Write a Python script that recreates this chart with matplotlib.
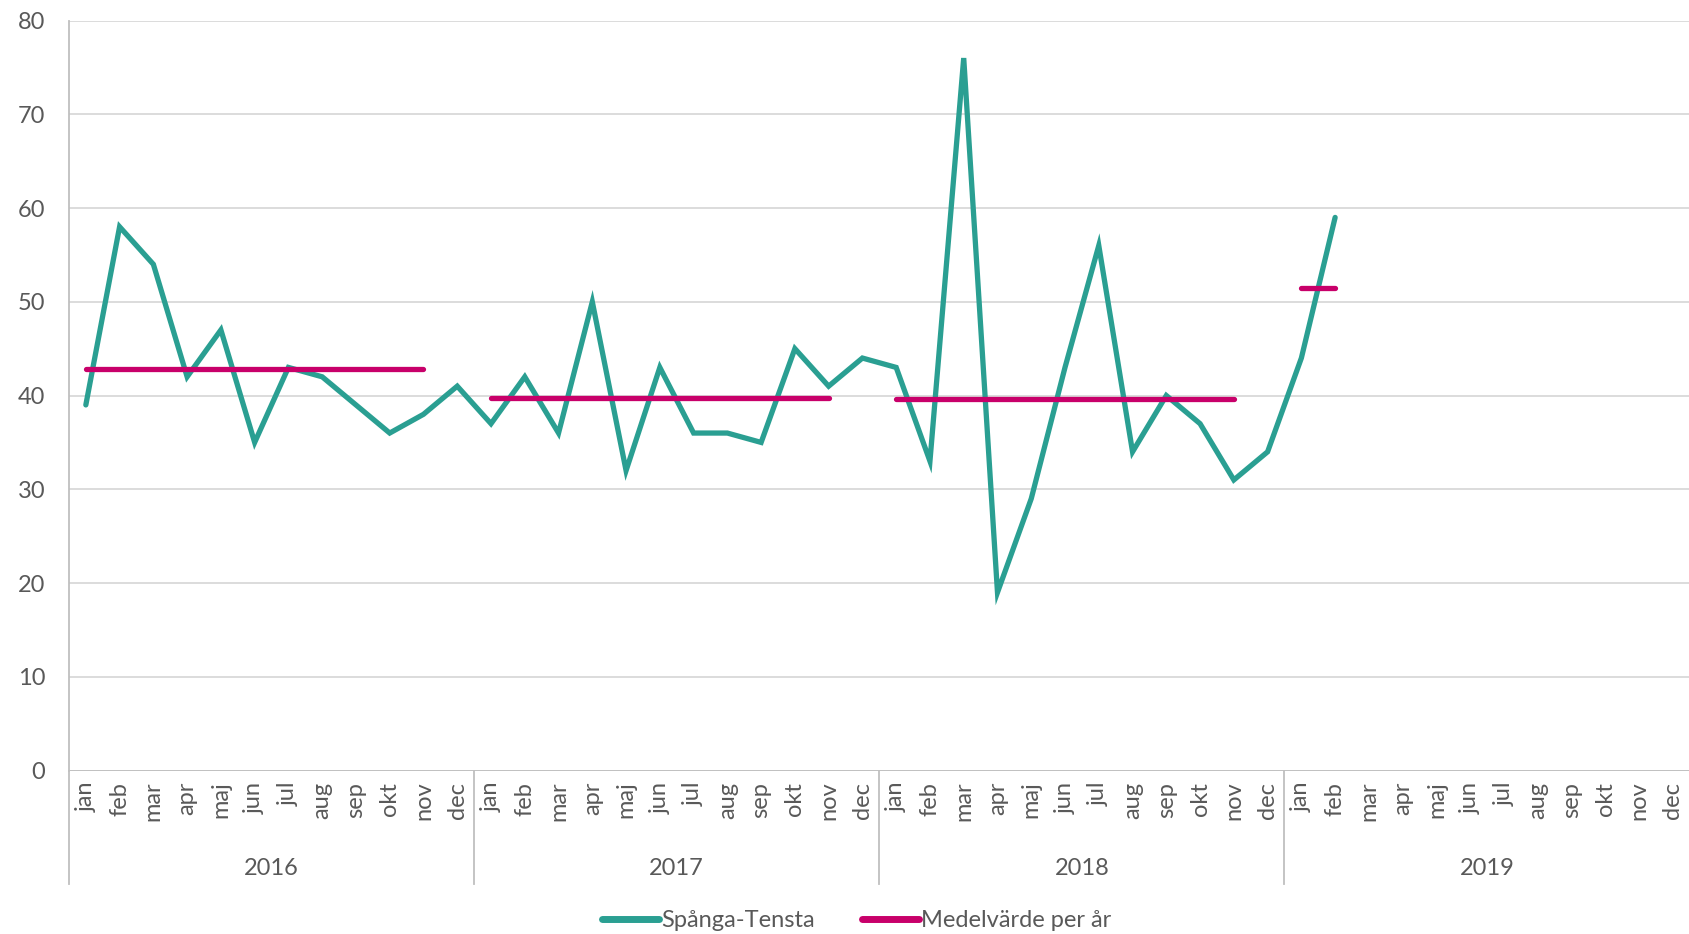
import matplotlib
matplotlib.use("Agg")
import matplotlib.pyplot as plt
import numpy as np

plt.rcParams['font.family'] = ['Lato', 'DejaVu Sans']

# data
manader = ["jan", "feb", "mar", "apr", "maj", "jun", "jul", "aug", "sep", "okt", "nov", "dec"]
ar = ["2016", "2017", "2018", "2019"]

v2016 = [39, 58, 54, 42, 47, 35, 43, 42, 39, 36, 38, 41]
v2017 = [37, 42, 36, 50, 32, 43, 36, 36, 35, 45, 41, 44]
v2018 = [43, 33, 76, 19, 29, 43, 56, 34, 40, 37, 31, 34]
v2019 = [44, 59]

TEAL = "#2A9F92"
MAGENTA = "#C8006A"
GREY_TXT = "#595959"
GRID = "#D9D9D9"
SPINE = "#BFBFBF"

alla = v2016 + v2017 + v2018 + v2019
serie = np.full(48, np.nan)
serie[:len(alla)] = alla

# medelvarde per ar, ritat jan-nov (jan-feb for 2019)
medel = np.full(48, np.nan)
for i, v in enumerate([v2016, v2017, v2018, v2019]):
    m = np.mean(v)
    n = 11 if len(v) == 12 else len(v)
    medel[i * 12:i * 12 + n] = m

x = np.arange(48)

fig = plt.figure(figsize=(16.9, 9.34), dpi=100)
ax = fig.add_axes([0.0408, 0.175, 0.959, 0.803])

ax.plot(x, serie, color=TEAL, lw=3.8, solid_capstyle='round', solid_joinstyle='miter',
        label="Spånga-Tensta", zorder=3)
ax.plot(x, medel, color=MAGENTA, lw=3.8, solid_capstyle='round',
        label="Medelvärde per år", zorder=4)

ax.set_xlim(-0.5, 47.5)
ax.set_ylim(0, 80)
ax.set_yticks(range(0, 81, 10))
ax.yaxis.grid(True, color=GRID, lw=1.3)
ax.set_axisbelow(True)

for s in ["top", "right", "bottom"]:
    ax.spines[s].set_visible(False)
ax.spines["left"].set_color(SPINE)
ax.spines["left"].set_linewidth(1.3)

ax.tick_params(axis='y', length=0, labelsize=17, labelcolor=GREY_TXT, pad=17)
ax.set_xticks(x)
ax.set_xticklabels(manader * 4, rotation=90, fontsize=17, color=GREY_TXT)
ax.tick_params(axis='x', length=0, pad=8)

# axellinje och arsavgransare
ax.axhline(0, color=SPINE, lw=1.3, zorder=2)
ax.plot([-0.5, -0.5], [0, -0.151], transform=ax.get_xaxis_transform(),
        color=SPINE, lw=1.3, clip_on=False)
for k in range(1, 4):
    ax.plot([k * 12 - 0.5] * 2, [0, -0.151], transform=ax.get_xaxis_transform(),
            color=SPINE, lw=1.3, clip_on=False)
for k, a in enumerate(ar):
    ax.text(k * 12 + 5.5, -0.131, a, transform=ax.get_xaxis_transform(),
            ha='center', va='center', fontsize=17, color=GREY_TXT)

leg = fig.legend(loc='center', bbox_to_anchor=(0.507, 0.014), ncol=2, frameon=False,
                 fontsize=17, handlelength=2.4, handletextpad=0.1, columnspacing=2.0)
for t in leg.get_texts():
    t.set_color(GREY_TXT)
for h in leg.get_lines():
    h.set_linewidth(5)

fig.savefig("out.png", dpi=100, facecolor="white")
